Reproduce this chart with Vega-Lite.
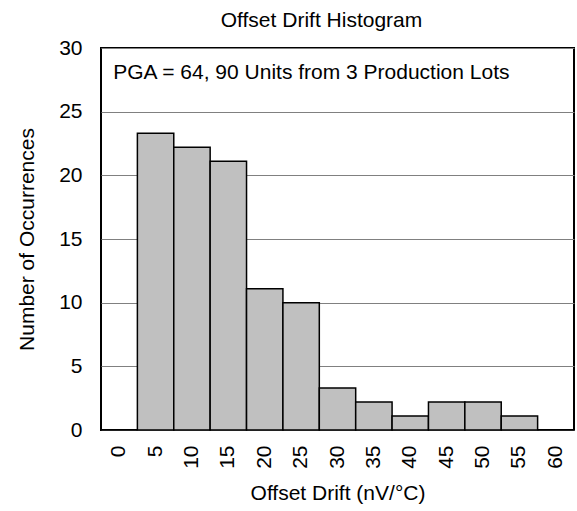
{
  "$schema": "https://vega.github.io/schema/vega-lite/v6.json",
  "width": 473,
  "height": 382,
  "autosize": {"type": "none"},
  "padding": {"left": 101, "top": 48, "right": 3, "bottom": 81},
  "background": "white",
  "config": {
    "font": "Liberation Sans",
    "view": {"stroke": "black", "strokeWidth": 2},
    "axis": {"labelFont": "Liberation Sans", "titleFont": "Liberation Sans", "labelColor": "black", "titleColor": "black", "titleFontWeight": "normal", "domain": false, "ticks": false}
  },
  "title": {"text": "Offset Drift Histogram", "fontSize": 21, "fontWeight": "normal", "font": "Liberation Sans", "color": "black", "offset": 6, "dx": -16},
  "data": {"values": [
    {"drift": "0", "count": 0},
    {"drift": "5", "count": 23.3},
    {"drift": "10", "count": 22.2},
    {"drift": "15", "count": 21.1},
    {"drift": "20", "count": 11.1},
    {"drift": "25", "count": 10.0},
    {"drift": "30", "count": 3.3},
    {"drift": "35", "count": 2.2},
    {"drift": "40", "count": 1.1},
    {"drift": "45", "count": 2.2},
    {"drift": "50", "count": 2.2},
    {"drift": "55", "count": 1.1},
    {"drift": "60", "count": 0}
  ]},
  "layer": [
    {
      "mark": {"type": "bar", "fill": "#c0c0c0", "stroke": "black", "strokeWidth": 1.5},
      "encoding": {
        "x": {"field": "drift", "type": "ordinal", "sort": null,
              "scale": {"domain": ["0","5","10","15","20","25","30","35","40","45","50","55","60"], "paddingInner": 0, "paddingOuter": 0},
              "axis": {"title": "Offset Drift (nV/°C)", "labelAngle": -90, "labelAlign": "right", "labelBaseline": "middle", "labelFontSize": 21, "titleFontSize": 21, "labelPadding": 15, "titlePadding": 14, "grid": false}},
        "y": {"field": "count", "type": "quantitative",
              "scale": {"domain": [0, 30], "nice": false},
              "axis": {"title": "Number of Occurrences", "values": [0,5,10,15,20,25,30], "labelFontSize": 21, "titleFontSize": 21, "labelPadding": 19, "titlePadding": 21, "grid": true, "gridColor": "#808080", "gridWidth": 1, "gridOpacity": 1}}
      }
    },
    {
      "data": {"values": [{"label": "PGA = 64, 90 Units from 3 Production Lots", "drift": "0", "y": 28.05}]},
      "mark": {"type": "text", "align": "left", "baseline": "middle", "fontSize": 21, "font": "Liberation Sans", "color": "black", "dx": -6},
      "encoding": {
        "x": {"field": "drift", "type": "ordinal"},
        "y": {"field": "y", "type": "quantitative"},
        "text": {"field": "label"}
      }
    }
  ]
}
